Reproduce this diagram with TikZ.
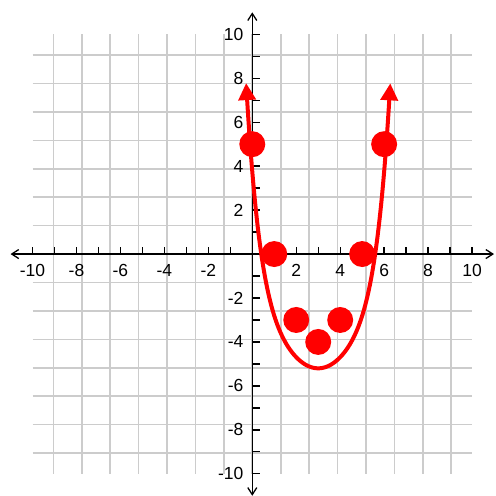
\documentclass[tikz,border=0pt]{standalone}
\usepackage{fontspec}
\setmainfont{Liberation Sans}
\usetikzlibrary{arrows.meta}
\definecolor{gridgray}{HTML}{CCCCCC}
\definecolor{plotred}{HTML}{FF0000}

\begin{document}
\begin{tikzpicture}[x=22pt,y=22pt,
  grid/.style={draw=gridgray,line width=1.6pt},
  axis/.style={{Straight Barb[length=7pt,width=9pt]}-{Straight Barb[length=7pt,width=9pt]},
    line width=1.3pt,black},
  tick/.style={line width=1.3pt,black},
  lbl/.style={font=\fontsize{17.5}{17.5}\selectfont,inner sep=0pt},
  curve/.style={{Triangle[length=17pt,width=17pt]}-{Triangle[length=17pt,width=17pt]},
    line width=4pt,plotred},
  dot/.style={circle,fill=plotred,minimum size=26pt,inner sep=0pt}]
\useasboundingbox (-11.48,-10.97) rectangle (11.09,11.56);
\draw[grid] (-10,-10) grid (10,10);
% axes
\coordinate (xmin) at (-11,0);
\coordinate (xmax) at (11,0);
\coordinate (ymin) at (0,-11);
\coordinate (ymax) at (0,11);
\draw[axis] (xmin)--(xmax);
\draw[axis] (ymin)--(ymax);
\foreach \t in {-10,...,-1,1,2,...,10} {
  \draw[tick] (\t,0)--(\t,0.33);
  \draw[tick] (0,\t)--(0.36,\t);
}
\foreach \t in {-10,-8,-6,-4,-2,2,4,6,8,10} {
  \node[lbl] (xl\t) at (\t,-0.75) {\t};
  \node[lbl,anchor=east] (yl\t) at (-0.4,\t) {\t};
}
% the curve and the points
\draw[curve] plot[domain=-0.28:6.28,samples=90,smooth]
  (\x,{-5.2+0.5*(\x-3)*(\x-3)+0.0061*((\x-3)*(\x-3))^3});
\foreach \x/\y [count=\i] in {0/5,1/0,2/-3,3/-4,4/-3,5/0,6/5}
  \node[dot] (p\i) at (\x,\y) {};
\end{tikzpicture}
\end{document}
